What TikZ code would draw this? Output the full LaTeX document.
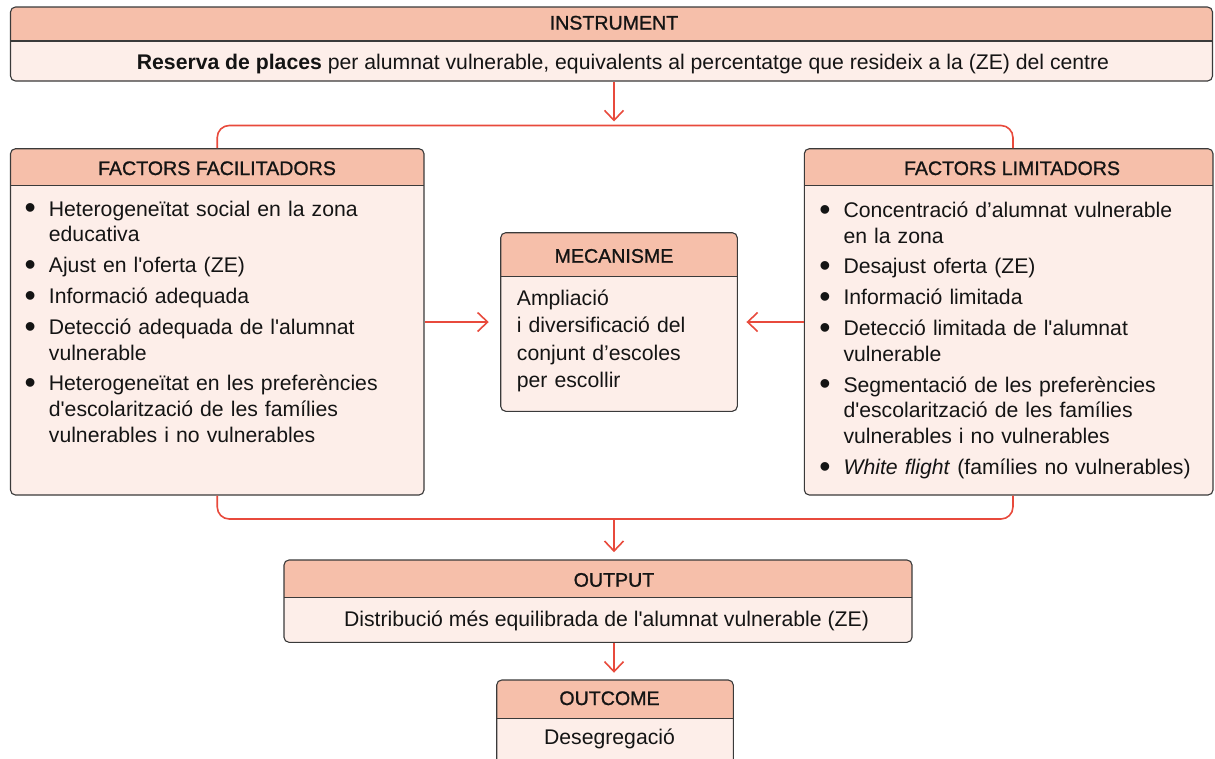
\documentclass[tikz,border=0pt]{standalone}
\usepackage{fontspec}
\setmainfont{Liberation Sans}
\newfontfamily\headfont[FakeBold=1.0]{Liberation Sans}
\usetikzlibrary{arrows.meta}
\definecolor{headFill}{HTML}{F6BFAA}
\definecolor{bodyFill}{HTML}{FDEEE9}
\definecolor{linkRed}{HTML}{E84A3C}
\definecolor{boxLine}{HTML}{3A3A3A}
\newcommand\bitem[1]{\noindent\hangindent=22pt\hangafter=1\makebox[22pt][l]{\hspace{-2.2pt}\raisebox{-2.8pt}{\fontsize{32}{32}\selectfont\textbullet}}#1\par}
\begin{document}
\begin{tikzpicture}[x=1pt, y=-1pt,
  every node/.style={font=\fontsize{21.2}{25.8}\selectfont, text=black!92},
  title/.style={anchor=base, font=\headfont\fontsize{19.6}{24}\selectfont},
  cardBox/.style={draw=boxLine, line width=1.1pt, fill=bodyFill, rounded corners=5pt, inner sep=0pt,
    path picture={\fill[headFill, sharp corners] (path picture bounding box.north west) rectangle ([yshift=-#1]path picture bounding box.north east);
      \draw[boxLine, line width=1.1pt, sharp corners] ([yshift=-#1]path picture bounding box.north west) -- ([yshift=-#1]path picture bounding box.north east);}},
  link/.style={draw=linkRed, line width=1.6pt},
  arrowLink/.style={link, -{Straight Barb[length=10pt, width=19pt]}}
]
	\useasboundingbox (0,0) rectangle (1215,758);

	% instrument
	\node[cardBox=34pt, minimum width=1202pt, minimum height=74pt](instrBox) at (611.5,44){};
	\node[title](instrTitle) at (614,29.5){INSTRUMENT};
	\node[anchor=base](instrText) at (623,69){\textbf{Reserva de places} per alumnat vulnerable, equivalents al percentatge que resideix a la (ZE) del centre};

	% factors
	\node[cardBox=36.5pt, minimum width=413.5pt, minimum height=346.3pt](facBox) at (217.25,321.85){};
	\node[title](facTitle) at (217,175){FACTORS FACILITADORS};
	\node[anchor=base west, text width=390pt, align=left, inner sep=0pt](facList) at (26.7,216){\setlength{\parskip}{5pt}%
		\bitem{Heterogeneïtat social en la zona\newline educativa}
		\bitem{Ajust en l\textquotesingle oferta (ZE)}
		\bitem{Informació adequada}
		\bitem{Detecció adequada de l\textquotesingle alumnat\newline vulnerable}
		\bitem{Heterogeneïtat en les preferències\newline d\textquotesingle escolarització de les famílies\newline vulnerables i no vulnerables}};

	\node[cardBox=36.5pt, minimum width=408.7pt, minimum height=346.3pt](limBox) at (1008.65,321.85){};
	\node[title](limTitle) at (1012,175){FACTORS LIMITADORS};
	\node[anchor=base west, text width=385pt, align=left, inner sep=0pt](limList) at (821.3,217.3){\setlength{\parskip}{5pt}%
		\bitem{Concentració d’alumnat vulnerable\newline en la zona}
		\bitem{Desajust oferta (ZE)}
		\bitem{Informació limitada}
		\bitem{Detecció limitada de l\textquotesingle alumnat\newline vulnerable}
		\bitem{Segmentació de les preferències\newline d\textquotesingle escolarització de les famílies\newline vulnerables i no vulnerables}
		\bitem{\textit{White flight} (famílies no vulnerables)}};

	% mecanisme
	\node[cardBox=44pt, minimum width=236.6pt, minimum height=178.6pt](mecBox) at (619,322){};
	\node[title](mecTitle) at (614,262.7){MECANISME};
	\node[anchor=base west, text width=215pt, align=left, inner sep=0pt, font=\fontsize{21.2}{27.6}\selectfont](mecText) at (516.7,305){Ampliació\\ i diversificació del\\ conjunt d’escoles\\ per escollir};

	% output and outcome
	\node[cardBox=37.3pt, minimum width=628pt, minimum height=82.3pt](outBox) at (598,601.15){};
	\node[title](outTitle) at (614,586.7){OUTPUT};
	\node[anchor=base](outText) at (606.5,626.7){Distribució més equilibrada de l\textquotesingle alumnat vulnerable (ZE)};

	\node[cardBox=38.3pt, minimum width=236.6pt, minimum height=90pt](outcomeBox) at (615,725){};
	\node[title](outcomeTitle) at (609.5,705){OUTCOME};
	\node[anchor=base](outcomeText) at (609.5,744.3){Desegregació};

	% connectors
	\coordinate(topBus) at (614,125.5);
	\coordinate(botBus) at (614,519);
	\draw[arrowLink, shorten >=4pt] (instrBox.south -| topBus) -- (topBus);
	\draw[link, rounded corners=12pt] (facBox.north) |- (topBus) -| ([xshift=4.3pt]limBox.north);
	\draw[link, rounded corners=12pt] (facBox.south) |- (botBus) -| ([xshift=4.3pt]limBox.south);
	\draw[arrowLink, shorten >=7.3pt] (botBus) -- (outBox.north -| botBus);
	\draw[arrowLink, shorten >=6.7pt] (outBox.south -| botBus) -- (outcomeBox.north -| botBus);
	\draw[arrowLink, shorten >=11.4pt] (facBox.east |- mecBox) -- (mecBox.west);
	\draw[arrowLink, shorten >=8.6pt] (limBox.west |- mecBox) -- (mecBox.east);
\end{tikzpicture}
\end{document}
